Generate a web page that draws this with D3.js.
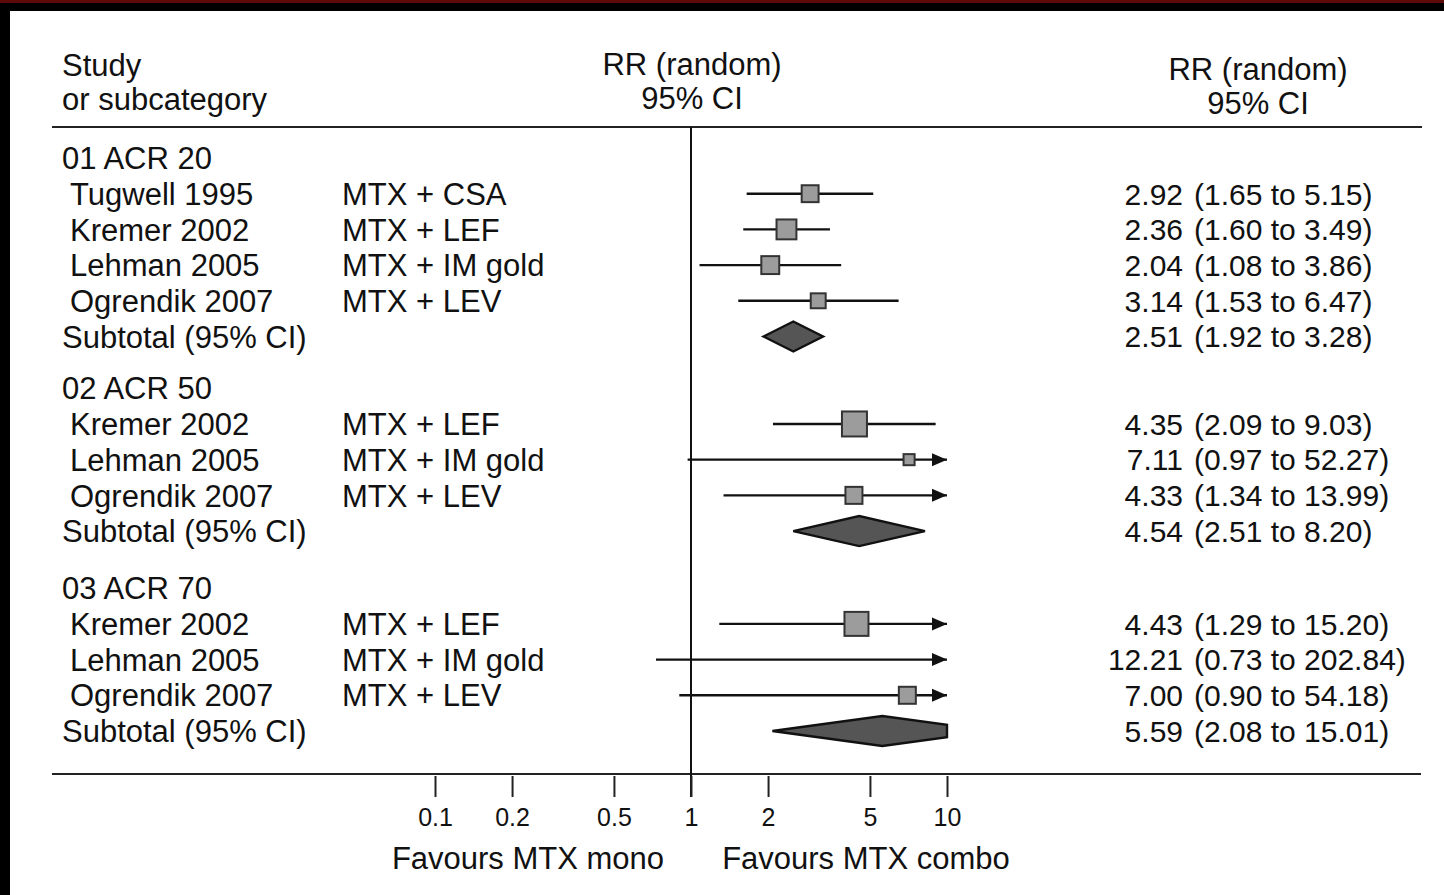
<!DOCTYPE html>
<html lang="en">
	<head>
		<meta charset="utf-8">
		<title>MTX combo vs MTX mono - forest plot</title>
		<script type="text/javascript" src="https://cdn.jsdelivr.net/npm/d3@7"></script>
		<style type="text/css">
			body{
				margin: 0;
				background: #000;
			}
			text{
				font-family: "Liberation Sans", Arial, sans-serif;
				fill: #111;
			}
		</style>
	</head>
	<body>
		<script type="text/javascript">

			//Subgroups
			var groups = ["01 ACR 20", "02 ACR 50", "03 ACR 70"];
			var groupGap = [0, 0.45, 0.6];

			//Studies (one entry per row, in order)
			var studyGroup = [0, 0, 0, 0, 1, 1, 1, 2, 2, 2];
			var studyNames = ["Tugwell 1995", "Kremer 2002", "Lehman 2005", "Ogrendik 2007",
							  "Kremer 2002", "Lehman 2005", "Ogrendik 2007",
							  "Kremer 2002", "Lehman 2005", "Ogrendik 2007"];
			var comparisons = ["MTX + CSA", "MTX + LEF", "MTX + IM gold", "MTX + LEV",
							   "MTX + LEF", "MTX + IM gold", "MTX + LEV",
							   "MTX + LEF", "MTX + IM gold", "MTX + LEV"];
			var rr    = [2.92, 2.36, 2.04, 3.14, 4.35, 7.11, 4.33, 4.43, 12.21, 7.00];
			var rrLow = [1.65, 1.60, 1.08, 1.53, 2.09, 0.97, 1.34, 1.29, 0.73, 0.90];
			var rrHigh= [5.15, 3.49, 3.86, 6.47, 9.03, 52.27, 13.99, 15.20, 202.84, 54.18];
			var weights = [23.3, 32.3, 26.2, 18.2, 51, 10, 23.6, 47, 10, 23.6];

			//Subtotals
			var subRR    = [2.51, 4.54, 5.59];
			var subLow   = [1.92, 2.51, 2.08];
			var subHigh  = [3.28, 8.20, 15.01];

			//Axis
			var tickValues = [0.1, 0.2, 0.5, 1, 2, 5, 10];
			var tickLabels = ["0.1", "0.2", "0.5", "1", "2", "5", "10"];

			//Width and height
			var w = 1444;
			var h = 895;

			var svg = d3.select("body")
						.append("svg")
						.attr("width", w)
						.attr("height", h);

			//page
			svg.append("rect").attr("x", 0).attr("y", 0).attr("width", w).attr("height", 3).attr("fill", "#5c0a0a");
			svg.append("rect").attr("x", 10).attr("y", 11).attr("width", w - 10).attr("height", h - 11).attr("fill", "#fff");

			//x scale (log)
			var x = d3.scaleLog()
					  .domain([1, 10])
					  .range([691, 947]);
			var xMax = 10;

			//build the rows
			var rows = [];
			var slot = 0;
			groups.forEach(function(g, gi) {
				slot += groupGap[gi];
				rows.push({type: "group", label: g, slot: slot});
				slot += 1;
				studyGroup.forEach(function(sg, i) {
					if(sg === gi){
						rows.push({type: "study", i: i, slot: slot});
						slot += 1;
					}
				});
				rows.push({type: "sub", gi: gi, slot: slot});
				slot += 1;
			});

			var y = d3.scaleLinear()
					  .domain([0, 1])
					  .range([158, 193.7]);

			var side = d3.scaleSqrt()
						 .domain([0, 100])
						 .range([0, 35]);

			//header
			var header = svg.append("g").style("font-size", "31px");
			header.append("text").attr("x", 62).attr("y", 76).text("Study");
			header.append("text").attr("x", 62).attr("y", 110).text("or subcategory");
			header.append("text").attr("x", 692).attr("y", 75).attr("text-anchor", "middle").text("RR (random)");
			header.append("text").attr("x", 692).attr("y", 109).attr("text-anchor", "middle").text("95% CI");
			header.append("text").attr("x", 1258).attr("y", 80).attr("text-anchor", "middle").text("RR (random)");
			header.append("text").attr("x", 1258).attr("y", 114).attr("text-anchor", "middle").text("95% CI");

			svg.append("line")
			   .attr("x1", 52).attr("x2", 1422)
			   .attr("y1", 127).attr("y2", 127)
			   .attr("stroke", "#222").attr("stroke-width", 2.2);

			svg.append("line")
			   .attr("x1", 52).attr("x2", 1421)
			   .attr("y1", 774).attr("y2", 774)
			   .attr("stroke", "#222").attr("stroke-width", 2.2);

			//line of no effect
			svg.append("line")
			   .attr("x1", x(1)).attr("x2", x(1))
			   .attr("y1", 127).attr("y2", 797)
			   .attr("stroke", "#111").attr("stroke-width", 2);

			var fmt = d3.format(".2f");

			//labels
			var labels = svg.append("g").style("font-size", "31px");
			rows.forEach(function(r) {
				var cy = y(r.slot);
				if(r.type === "group"){
					labels.append("text").attr("x", 62).attr("y", cy).attr("dy", "0.36em").text(r.label);
				}else if(r.type === "study"){
					labels.append("text").attr("x", 70).attr("y", cy).attr("dy", "0.36em").text(studyNames[r.i]);
					labels.append("text").attr("x", 342).attr("y", cy).attr("dy", "0.36em").text(comparisons[r.i]);
					labels.append("text").attr("x", 1183).attr("y", cy).attr("dy", "0.36em")
						  .attr("text-anchor", "end").style("font-size", "30px")
						  .text(fmt(rr[r.i]));
					labels.append("text").attr("x", 1194).attr("y", cy).attr("dy", "0.36em")
						  .style("font-size", "30px")
						  .text("(" + fmt(rrLow[r.i]) + " to " + fmt(rrHigh[r.i]) + ")");
				}else{
					labels.append("text").attr("x", 62).attr("y", cy).attr("dy", "0.36em").text("Subtotal (95% CI)");
					labels.append("text").attr("x", 1183).attr("y", cy).attr("dy", "0.36em")
						  .attr("text-anchor", "end").style("font-size", "30px")
						  .text(fmt(subRR[r.gi]));
					labels.append("text").attr("x", 1194).attr("y", cy).attr("dy", "0.36em")
						  .style("font-size", "30px")
						  .text("(" + fmt(subLow[r.gi]) + " to " + fmt(subHigh[r.gi]) + ")");
				}
			});

			//study marks
			var marks = svg.append("g");
			var studyRows = rows.filter(function(r) { return r.type === "study"; });

			marks.selectAll("line.ci")
				 .data(studyRows)
				 .enter()
				 .append("line")
				 .attr("class", "ci")
				 .attr("x1", function(d) { return x(rrLow[d.i]); })
				 .attr("x2", function(d) { return x(Math.min(rrHigh[d.i], xMax)); })
				 .attr("y1", function(d) { return y(d.slot); })
				 .attr("y2", function(d) { return y(d.slot); })
				 .attr("stroke", "#111")
				 .attr("stroke-width", 2.4);

			//arrow heads where the CI runs past the axis
			marks.selectAll("path.arrow")
				 .data(studyRows.filter(function(d) { return rrHigh[d.i] > xMax; }))
				 .enter()
				 .append("path")
				 .attr("class", "arrow")
				 .attr("d", function(d) {
					 var tx = x(xMax), cy = y(d.slot);
					 return "M" + tx + "," + cy + "L" + (tx - 15) + "," + (cy - 6.5) + "L" + (tx - 15) + "," + (cy + 6.5) + "Z";
				 })
				 .attr("fill", "#111");

			marks.selectAll("rect.box")
				 .data(studyRows.filter(function(d) { return rr[d.i] <= xMax; }))
				 .enter()
				 .append("rect")
				 .attr("class", "box")
				 .attr("x", function(d) { return x(rr[d.i]) - side(weights[d.i]) / 2; })
				 .attr("y", function(d) { return y(d.slot) - side(weights[d.i]) / 2; })
				 .attr("width", function(d) { return side(weights[d.i]); })
				 .attr("height", function(d) { return side(weights[d.i]); })
				 .attr("fill", "#9c9c9c")
				 .attr("stroke", "#333")
				 .attr("stroke-width", 2);

			//subtotal diamonds (clipped at the right end of the axis)
			var dh = 15;
			marks.selectAll("path.diamond")
				 .data(rows.filter(function(r) { return r.type === "sub"; }))
				 .enter()
				 .append("path")
				 .attr("class", "diamond")
				 .attr("d", function(d) {
					 var cy = y(d.slot);
					 var xl = x(subLow[d.gi]), xe = x(subRR[d.gi]), xh = x(subHigh[d.gi]);
					 var pts = [[xl, cy], [xe, cy - dh]];
					 if(subHigh[d.gi] > xMax){
						 var xc = x(xMax);
						 var k = dh * (xh - xc) / (xh - xe);
						 pts.push([xc, cy - k], [xc, cy + k]);
					 }else{
						 pts.push([xh, cy]);
					 }
					 pts.push([xe, cy + dh]);
					 return "M" + pts.join("L") + "Z";
				 })
				 .attr("fill", "#555")
				 .attr("stroke", "#111")
				 .attr("stroke-width", 2.4)
				 .attr("stroke-linejoin", "miter");

			//axis
			var axis = d3.axisBottom(x)
						 .tickValues(tickValues)
						 .tickFormat(function(d, i) { return tickLabels[i]; })
						 .tickSize(21)
						 .tickPadding(11);

			var ax = svg.append("g")
						.attr("transform", "translate(0,776)")
						.call(axis);
			ax.select(".domain").remove();
			ax.selectAll(".tick line").attr("stroke", "#222").attr("stroke-width", 2);
			ax.selectAll(".tick text")
			  .style("font-size", "25px")
			  .style("font-family", "'Liberation Sans', Arial, sans-serif")
			  .attr("fill", "#111");

			svg.append("text").attr("x", 528).attr("y", 869).attr("text-anchor", "middle")
			   .style("font-size", "31px").text("Favours MTX mono");
			svg.append("text").attr("x", 866).attr("y", 869).attr("text-anchor", "middle")
			   .style("font-size", "31px").text("Favours MTX combo");

		</script>
	</body>
</html>
